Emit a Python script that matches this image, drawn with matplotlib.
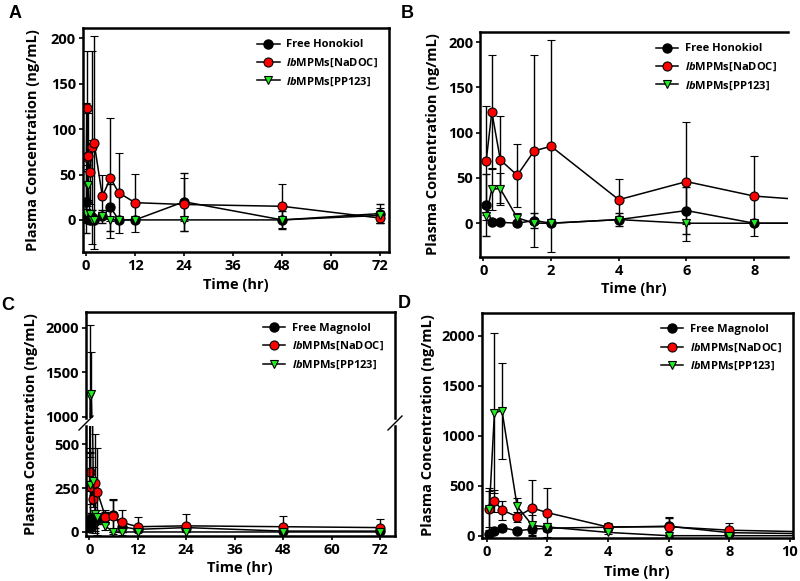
import matplotlib
matplotlib.use('Agg')
import matplotlib.pyplot as plt
from matplotlib.lines import Line2D
import numpy as np

plt.rcParams['font.family'] = ['Open Sans', 'DejaVu Sans']
plt.rcParams['font.weight'] = 'bold'
plt.rcParams['mathtext.fontset'] = 'custom'
plt.rcParams['mathtext.rm'] = 'Open Sans:bold'
plt.rcParams['mathtext.it'] = 'Open Sans:italic:bold'

# sampling times (hr)
t = [0.083, 0.25, 0.5, 1, 1.5, 2, 4, 6, 8, 12, 24, 48, 72]

# honokiol (ng/mL), mean and SD
hk_free = [20, 1, 1, 0, 3, 0, 4, 14, 0, 0, 20, 0, 7]
hk_free_sd = [34, 2, 2, 1, 8, 2, 7, 26, 2, 2, 32, 10, 10]
hk_nadoc = [69, 123, 70, 53, 80, 85, 26, 46, 30, 19, 17, 15, 2]
hk_nadoc_sd = [60, 63, 48, 35, 106, 117, 23, 66, 44, 32, 29, 24, 5]
hk_pp = [8, 38, 38, 6, 0, 0, 4, 0, 0, 0, 0, 0, 5]
hk_pp_sd = [4, 23, 18, 5, 1, 1, 2, 1, 1, 1, 1, 1, 8]

# magnolol (ng/mL), mean and SD
mg_free = [20, 45, 80, 50, 65, 75, 85, 95, 30, 15, 25, 5, 5]
mg_free_sd = [10, 20, 30, 25, 40, 30, 30, 85, 30, 15, 20, 5, 5]
mg_nadoc = [270, 345, 257, 190, 277, 230, 87, 90, 55, 30, 35, 30, 25]
mg_nadoc_sd = [180, 110, 95, 50, 283, 247, 40, 100, 73, 55, 65, 60, 50]
mg_pp = [270, 1230, 1250, 293, 103, 87, 33, 0, 0, 0, 0, 0, 0]
mg_pp_sd = [210, 800, 480, 80, 100, 40, 20, 0, 0, 0, 0, 0, 0]

lbl_free_hk = 'Free Honokiol'
lbl_free_mg = 'Free Magnolol'
lbl_nadoc = r'$\mathit{lb}$MPMs[NaDOC]'
lbl_pp = r'$\mathit{lb}$MPMs[PP123]'

W, H = 800, 581
fig = plt.figure(figsize=(8, 5.81), dpi=100)

GREEN = '#22ee22'
mk_free = dict(marker='o', ms=6.5, mfc='black', mec='black')
mk_nadoc = dict(marker='o', ms=6.5, mfc='red', mec='black', mew=0.8)
mk_pp = dict(marker='v', ms=5.5, mfc=GREEN, mec='black', mew=0.8)


def px_axes(l, tp, r, b):
    return fig.add_axes([l / W, 1 - b / H, (r - l) / W, (b - tp) / H])


def draw(ax, free, free_sd, nadoc, nadoc_sd, pp, pp_sd):
    kw = dict(color='black', lw=1.1, ecolor='black', elinewidth=1.0, capsize=3, capthick=1.0)
    ax.errorbar(t, free, yerr=free_sd, **mk_free, **kw)
    ax.errorbar(t, nadoc, yerr=nadoc_sd, **mk_nadoc, **kw)
    ax.errorbar(t, pp, yerr=pp_sd, **mk_pp, **kw)


def style(ax):
    for s in ax.spines.values():
        s.set_linewidth(1.8)
    ax.tick_params(width=1.2, length=3, labelsize=10.5, pad=2)
    for lab in ax.get_xticklabels() + ax.get_yticklabels():
        lab.set_fontweight('bold')


def legend(ax, lab_free):
    handles = [Line2D([], [], color='black', lw=1.1, **mk_free),
               Line2D([], [], color='black', lw=1.1, **mk_nadoc),
               Line2D([], [], color='black', lw=1.1, **mk_pp)]
    ax.legend(handles, [lab_free, lbl_nadoc, lbl_pp], loc='upper right', frameon=False,
              handlelength=2.0, handletextpad=0.6, labelspacing=0.55, borderaxespad=0.6,
              prop={'weight': 'bold', 'size': 8})


# panel A
axA = px_axes(82.7, 28.3, 389.3, 251.7)
draw(axA, hk_free, hk_free_sd, hk_nadoc, hk_nadoc_sd, hk_pp, hk_pp_sd)
axA.set_xlim(-0.8, 74.2)
axA.set_ylim(-35, 211)
axA.set_xticks([0, 12, 24, 36, 48, 60, 72])
axA.set_yticks([0, 50, 100, 150, 200])
style(axA)
legend(axA, lbl_free_hk)

# panel B
axB = px_axes(480, 32.3, 788, 256.7)
draw(axB, hk_free, hk_free_sd, hk_nadoc, hk_nadoc_sd, hk_pp, hk_pp_sd)
axB.set_xlim(-0.1, 9.0)
axB.set_ylim(-37, 211)
axB.set_xticks([0, 2, 4, 6, 8])
axB.set_yticks([0, 50, 100, 150, 200])
style(axB)
axB.spines['right'].set_visible(False)
legend(axB, lbl_free_hk)

# panel C (broken axis)
axCu = px_axes(86, 311.7, 395, 418)
axCl = px_axes(86, 426, 395, 536)
for ax in (axCu, axCl):
    draw(ax, mg_free, mg_free_sd, mg_nadoc, mg_nadoc_sd, mg_pp, mg_pp_sd)
    ax.set_xlim(-0.8, 75.7)
    style(ax)
axCu.set_ylim(985, 2180)
axCu.set_yticks([1000, 1500, 2000])
axCl.set_ylim(-23, 605)
axCl.set_yticks([0, 250, 500])
axCl.set_xticks([0, 12, 24, 36, 48, 60, 72])
axCu.set_xticks([])
axCu.spines['bottom'].set_visible(False)
axCl.spines['top'].set_visible(False)
legend(axCu, lbl_free_mg)
for xp in (86, 395):
    fig.add_artist(Line2D([(xp - 7) / W, (xp + 7) / W], [1 - 430 / H, 1 - 416 / H],
                          color='black', lw=1.0))

# panel D
axD = px_axes(481.7, 313, 793, 538)
draw(axD, mg_free, mg_free_sd, mg_nadoc, mg_nadoc_sd, mg_pp, mg_pp_sd)
axD.set_xlim(-0.17, 10.1)
axD.set_ylim(-23, 2227)
axD.set_xticks([0, 2, 4, 6, 8, 10])
axD.set_yticks([0, 500, 1000, 1500, 2000])
style(axD)
legend(axD, lbl_free_mg)

# axis titles
ylab = 'Plasma Concentration (ng/mL)'
for x, y in [(33, 140), (433, 144), (31, 424), (428, 425)]:
    fig.text(x / W, 1 - y / H, ylab, rotation=90, ha='center', va='center',
             fontsize=10.5, fontweight='bold')
for x, y in [(236, 285), (634, 289), (240, 568), (637, 572)]:
    fig.text(x / W, 1 - y / H, 'Time (hr)', ha='center', va='center',
             fontsize=10.5, fontweight='bold')

# panel letters
for x, y, s in [(15, 13, 'A'), (407, 13, 'B'), (8, 305, 'C'), (404, 304, 'D')]:
    fig.text(x / W, 1 - y / H, s, ha='center', va='center', fontsize=13,
             fontweight='bold', family='Liberation Sans')

fig.savefig('out.png', dpi=100)
